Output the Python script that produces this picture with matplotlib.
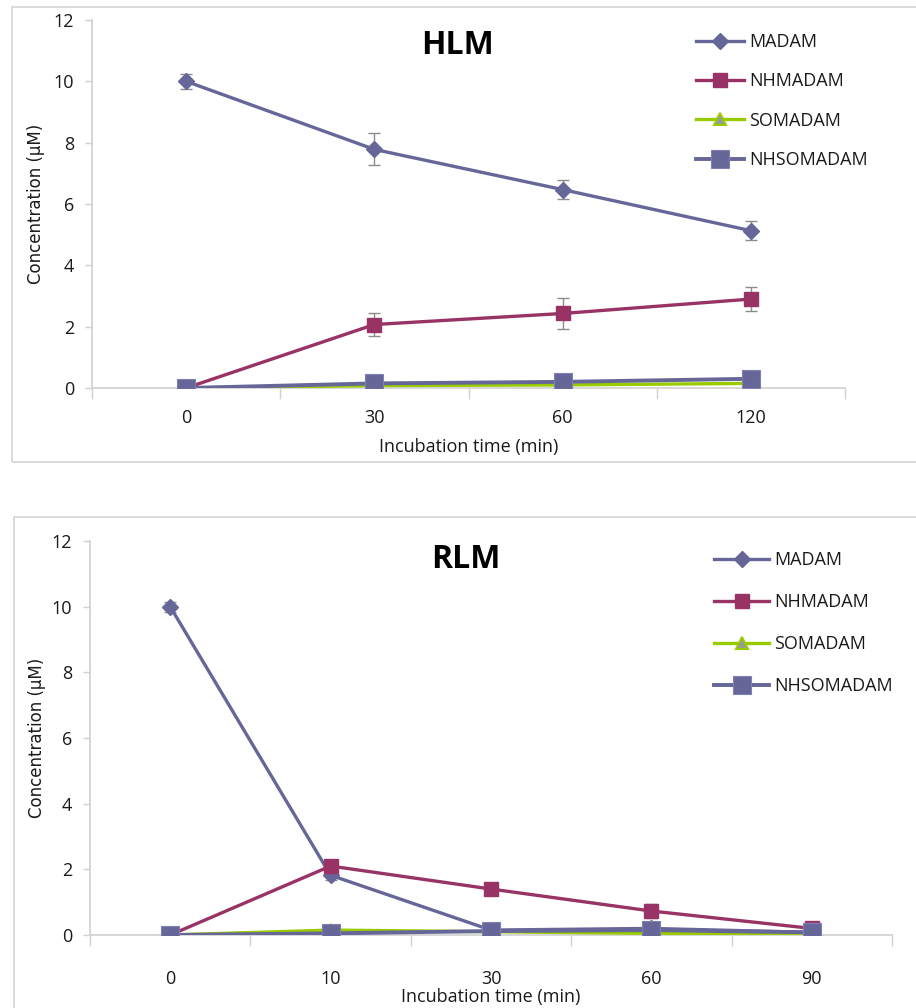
import matplotlib
matplotlib.use("Agg")
import matplotlib.pyplot as plt
from matplotlib.patches import Rectangle
import numpy as np

# ---------------- data ----------------
series_names = ["MADAM", "NHMADAM", "SOMADAM", "NHSOMADAM"]

hlm_times = ["0", "30", "60", "120"]
hlm_madam = [10.0, 7.78, 6.47, 5.13]
hlm_madam_err = [0.25, 0.52, 0.32, 0.3]
hlm_nhmadam = [0.0, 2.07, 2.43, 2.9]
hlm_nhmadam_err = [0.0, 0.39, 0.5, 0.4]
hlm_somadam = [0.0, 0.08, 0.1, 0.15]
hlm_nhsomadam = [0.0, 0.15, 0.2, 0.3]

rlm_times = ["0", "10", "30", "60", "90"]
rlm_madam = [10.0, 1.82, 0.15, 0.2, 0.08]
rlm_madam_err = [0.15, 0.15, 0.05, 0.1, 0.05]
rlm_nhmadam = [0.0, 2.1, 1.4, 0.73, 0.2]
rlm_nhmadam_err = [0.0, 0.15, 0.1, 0.22, 0.05]
rlm_somadam = [0.0, 0.15, 0.1, 0.05, 0.03]
rlm_nhsomadam = [0.0, 0.05, 0.12, 0.15, 0.08]

y_ticks = [0, 2, 4, 6, 8, 10, 12]

# ---------------- style ----------------
C_MADAM = "#666699"
C_NHM = "#993366"
C_SOM = "#99CC00"
C_SOM_FACE = "#999999"
C_NHSOM = "#666699"
GRID_GREY = "#D0D0D0"
TXT = "#1a1a1a"
FONT = ["Open Sans", "DejaVu Sans"]

plt.rcParams["font.family"] = FONT

W, H = 916, 1008
fig = plt.figure(figsize=(W / 100, H / 100), dpi=100)


def fx(px):
    return px / W


def fy(py):
    return 1 - py / H


# panel frames
fig.add_artist(Rectangle((fx(12), fy(462)), fx(960 - 12), (462 - 7) / H,
                         transform=fig.transFigure, fill=False,
                         edgecolor="#D4D4D4", lw=1.2))
fig.add_artist(Rectangle((fx(14), fy(1060)), fx(960 - 14), (1060 - 517) / H,
                         transform=fig.transFigure, fill=False,
                         edgecolor="#D4D4D4", lw=1.2))


def draw_panel(rect, times, madam, madam_err, nhm, nhm_err, som, nhsom,
               title, title_xy, leg_xy, leg_spacing, handle_len,
               xpad, xlabelpad, ylabelpad):
    ax = fig.add_axes(rect)
    x = np.arange(len(times))
    ax.errorbar(x, madam, yerr=madam_err, fmt="none", ecolor="#8C8C8C",
                elinewidth=1.0, capsize=4, capthick=1.0, zorder=2)
    ax.errorbar(x, nhm, yerr=nhm_err, fmt="none", ecolor="#8C8C8C",
                elinewidth=1.0, capsize=4, capthick=1.0, zorder=2)
    h1, = ax.plot(x, madam, color=C_MADAM, lw=2.4, marker="D", ms=8,
                  mec=C_MADAM, label=series_names[0], zorder=3)
    h2, = ax.plot(x, nhm, color=C_NHM, lw=2.4, marker="s", ms=9.5,
                  mec=C_NHM, label=series_names[1], zorder=4)
    h3, = ax.plot(x, som, color=C_SOM, lw=2.4, marker="^", ms=9,
                  mfc=C_SOM_FACE, mec=C_SOM, mew=1.5, label=series_names[2],
                  zorder=5)
    h4, = ax.plot(x, nhsom, color=C_NHSOM, lw=2.8, marker="s", ms=12.5,
                  mec="#8080B0", mew=0.8, label=series_names[3], zorder=6)

    ax.set_xlim(-0.5, len(times) - 0.5)
    ax.set_ylim(0, 12)
    ax.set_yticks(y_ticks)
    ax.set_xticks(x)
    ax.set_xticklabels(times)
    ax.set_xticks(np.arange(-0.5, len(times)), minor=True)
    ax.tick_params(axis="x", which="major", length=0, pad=xpad,
                   labelsize=13, labelcolor=TXT)
    ax.tick_params(axis="x", which="minor", length=8, width=1,
                   color=GRID_GREY, direction="out")
    ax.tick_params(axis="y", which="major", length=5, width=1,
                   color=GRID_GREY, pad=8, labelsize=13, labelcolor=TXT)
    for s in ["top", "right"]:
        ax.spines[s].set_visible(False)
    for s in ["left", "bottom"]:
        ax.spines[s].set_color(GRID_GREY)
        ax.spines[s].set_linewidth(1.2)
        ax.spines[s].set_zorder(1)

    ax.set_xlabel("Incubation time (min)", fontsize=13, color=TXT,
                  labelpad=xlabelpad)
    ax.set_ylabel("Concentration (\u03bcM)", fontsize=12, color=TXT,
                  family=["DejaVu Sans"], labelpad=ylabelpad)

    fig.text(fx(title_xy[0]), fy(title_xy[1]), title, fontsize=23,
             fontweight="bold", ha="center", va="center", color="black")

    leg = ax.legend(handles=[h1, h2, h3, h4], loc="upper left",
                    bbox_to_anchor=(fx(leg_xy[0]), fy(leg_xy[1])),
                    bbox_transform=fig.transFigure, frameon=False, fontsize=13,
                    labelspacing=leg_spacing, handlelength=handle_len,
                    handletextpad=0.3, borderpad=0, borderaxespad=0)
    for t in leg.get_texts():
        t.set_color(TXT)
    ax.set_facecolor("none")
    return ax


draw_panel([fx(92), fy(388), fx(845 - 92), (388 - 20) / H],
           hlm_times, hlm_madam, hlm_madam_err, hlm_nhmadam, hlm_nhmadam_err,
           hlm_somadam, hlm_nhsomadam, "HLM", (457, 45), (696, 33), 1.18, 2.65,
           15, 8, 6)

draw_panel([fx(90), fy(935), fx(892 - 90), (935 - 541) / H],
           rlm_times, rlm_madam, rlm_madam_err, rlm_nhmadam, rlm_nhmadam_err,
           rlm_somadam, rlm_nhsomadam, "RLM", (466, 560), (714, 551), 1.33, 3.05,
           25, 0, 4)

fig.savefig("out.png", dpi=100, facecolor="white")
